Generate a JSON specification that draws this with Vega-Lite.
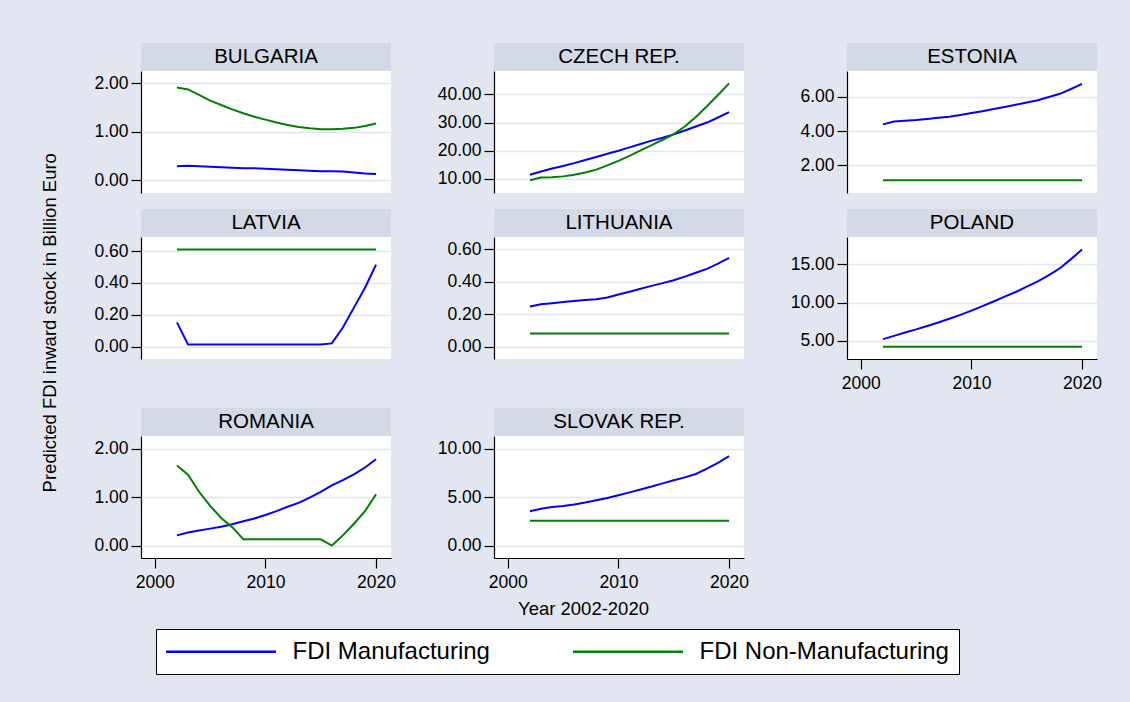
{
"$schema": "https://vega.github.io/schema/vega-lite/v6.json",
"background": "#e1e6f0",
"padding": {"left": 41, "top": 43, "right": 28, "bottom": 27},
"title": {"text": "Predicted FDI inward stock in Billion Euro", "orient": "left", "anchor": "middle", "font": "Liberation Sans", "fontSize": 18.5, "fontWeight": "normal", "color": "#000000", "offset": 34, "dx": 36},
"datasets": {"fdi": [
{"country":"BULGARIA","year":2002,"FDI Manufacturing":0.29,"FDI Non-Manufacturing":1.91},
{"country":"BULGARIA","year":2003,"FDI Manufacturing":0.30,"FDI Non-Manufacturing":1.87},
{"country":"BULGARIA","year":2004,"FDI Manufacturing":0.29,"FDI Non-Manufacturing":1.76},
{"country":"BULGARIA","year":2005,"FDI Manufacturing":0.28,"FDI Non-Manufacturing":1.64},
{"country":"BULGARIA","year":2006,"FDI Manufacturing":0.27,"FDI Non-Manufacturing":1.55},
{"country":"BULGARIA","year":2007,"FDI Manufacturing":0.26,"FDI Non-Manufacturing":1.46},
{"country":"BULGARIA","year":2008,"FDI Manufacturing":0.25,"FDI Non-Manufacturing":1.38},
{"country":"BULGARIA","year":2009,"FDI Manufacturing":0.25,"FDI Non-Manufacturing":1.31},
{"country":"BULGARIA","year":2010,"FDI Manufacturing":0.24,"FDI Non-Manufacturing":1.25},
{"country":"BULGARIA","year":2011,"FDI Manufacturing":0.23,"FDI Non-Manufacturing":1.19},
{"country":"BULGARIA","year":2012,"FDI Manufacturing":0.22,"FDI Non-Manufacturing":1.14},
{"country":"BULGARIA","year":2013,"FDI Manufacturing":0.21,"FDI Non-Manufacturing":1.10},
{"country":"BULGARIA","year":2014,"FDI Manufacturing":0.20,"FDI Non-Manufacturing":1.07},
{"country":"BULGARIA","year":2015,"FDI Manufacturing":0.19,"FDI Non-Manufacturing":1.05},
{"country":"BULGARIA","year":2016,"FDI Manufacturing":0.19,"FDI Non-Manufacturing":1.05},
{"country":"BULGARIA","year":2017,"FDI Manufacturing":0.18,"FDI Non-Manufacturing":1.06},
{"country":"BULGARIA","year":2018,"FDI Manufacturing":0.16,"FDI Non-Manufacturing":1.08},
{"country":"BULGARIA","year":2019,"FDI Manufacturing":0.14,"FDI Non-Manufacturing":1.12},
{"country":"BULGARIA","year":2020,"FDI Manufacturing":0.13,"FDI Non-Manufacturing":1.17},
{"country":"CZECH REP.","year":2002,"FDI Manufacturing":11.5,"FDI Non-Manufacturing":9.5},
{"country":"CZECH REP.","year":2003,"FDI Manufacturing":12.6,"FDI Non-Manufacturing":10.5},
{"country":"CZECH REP.","year":2004,"FDI Manufacturing":13.7,"FDI Non-Manufacturing":10.6},
{"country":"CZECH REP.","year":2005,"FDI Manufacturing":14.6,"FDI Non-Manufacturing":10.9},
{"country":"CZECH REP.","year":2006,"FDI Manufacturing":15.6,"FDI Non-Manufacturing":11.5},
{"country":"CZECH REP.","year":2007,"FDI Manufacturing":16.7,"FDI Non-Manufacturing":12.3},
{"country":"CZECH REP.","year":2008,"FDI Manufacturing":17.8,"FDI Non-Manufacturing":13.3},
{"country":"CZECH REP.","year":2009,"FDI Manufacturing":18.9,"FDI Non-Manufacturing":14.8},
{"country":"CZECH REP.","year":2010,"FDI Manufacturing":20.0,"FDI Non-Manufacturing":16.4},
{"country":"CZECH REP.","year":2011,"FDI Manufacturing":21.2,"FDI Non-Manufacturing":18.2},
{"country":"CZECH REP.","year":2012,"FDI Manufacturing":22.4,"FDI Non-Manufacturing":20.1},
{"country":"CZECH REP.","year":2013,"FDI Manufacturing":23.6,"FDI Non-Manufacturing":22.0},
{"country":"CZECH REP.","year":2014,"FDI Manufacturing":24.6,"FDI Non-Manufacturing":23.9},
{"country":"CZECH REP.","year":2015,"FDI Manufacturing":25.8,"FDI Non-Manufacturing":25.9},
{"country":"CZECH REP.","year":2016,"FDI Manufacturing":27.2,"FDI Non-Manufacturing":28.6},
{"country":"CZECH REP.","year":2017,"FDI Manufacturing":28.6,"FDI Non-Manufacturing":32.0},
{"country":"CZECH REP.","year":2018,"FDI Manufacturing":30.0,"FDI Non-Manufacturing":35.8},
{"country":"CZECH REP.","year":2019,"FDI Manufacturing":31.8,"FDI Non-Manufacturing":39.8},
{"country":"CZECH REP.","year":2020,"FDI Manufacturing":33.7,"FDI Non-Manufacturing":43.9},
{"country":"ESTONIA","year":2002,"FDI Manufacturing":4.39,"FDI Non-Manufacturing":1.13},
{"country":"ESTONIA","year":2003,"FDI Manufacturing":4.56,"FDI Non-Manufacturing":1.13},
{"country":"ESTONIA","year":2004,"FDI Manufacturing":4.60,"FDI Non-Manufacturing":1.13},
{"country":"ESTONIA","year":2005,"FDI Manufacturing":4.64,"FDI Non-Manufacturing":1.13},
{"country":"ESTONIA","year":2006,"FDI Manufacturing":4.70,"FDI Non-Manufacturing":1.13},
{"country":"ESTONIA","year":2007,"FDI Manufacturing":4.77,"FDI Non-Manufacturing":1.13},
{"country":"ESTONIA","year":2008,"FDI Manufacturing":4.84,"FDI Non-Manufacturing":1.13},
{"country":"ESTONIA","year":2009,"FDI Manufacturing":4.94,"FDI Non-Manufacturing":1.13},
{"country":"ESTONIA","year":2010,"FDI Manufacturing":5.05,"FDI Non-Manufacturing":1.13},
{"country":"ESTONIA","year":2011,"FDI Manufacturing":5.16,"FDI Non-Manufacturing":1.13},
{"country":"ESTONIA","year":2012,"FDI Manufacturing":5.28,"FDI Non-Manufacturing":1.13},
{"country":"ESTONIA","year":2013,"FDI Manufacturing":5.40,"FDI Non-Manufacturing":1.13},
{"country":"ESTONIA","year":2014,"FDI Manufacturing":5.53,"FDI Non-Manufacturing":1.13},
{"country":"ESTONIA","year":2015,"FDI Manufacturing":5.67,"FDI Non-Manufacturing":1.13},
{"country":"ESTONIA","year":2016,"FDI Manufacturing":5.80,"FDI Non-Manufacturing":1.13},
{"country":"ESTONIA","year":2017,"FDI Manufacturing":5.98,"FDI Non-Manufacturing":1.13},
{"country":"ESTONIA","year":2018,"FDI Manufacturing":6.17,"FDI Non-Manufacturing":1.13},
{"country":"ESTONIA","year":2019,"FDI Manufacturing":6.45,"FDI Non-Manufacturing":1.13},
{"country":"ESTONIA","year":2020,"FDI Manufacturing":6.75,"FDI Non-Manufacturing":1.13},
{"country":"LATVIA","year":2002,"FDI Manufacturing":0.152,"FDI Non-Manufacturing":0.611},
{"country":"LATVIA","year":2003,"FDI Manufacturing":0.013,"FDI Non-Manufacturing":0.611},
{"country":"LATVIA","year":2004,"FDI Manufacturing":0.013,"FDI Non-Manufacturing":0.611},
{"country":"LATVIA","year":2005,"FDI Manufacturing":0.013,"FDI Non-Manufacturing":0.611},
{"country":"LATVIA","year":2006,"FDI Manufacturing":0.013,"FDI Non-Manufacturing":0.611},
{"country":"LATVIA","year":2007,"FDI Manufacturing":0.013,"FDI Non-Manufacturing":0.611},
{"country":"LATVIA","year":2008,"FDI Manufacturing":0.013,"FDI Non-Manufacturing":0.611},
{"country":"LATVIA","year":2009,"FDI Manufacturing":0.013,"FDI Non-Manufacturing":0.611},
{"country":"LATVIA","year":2010,"FDI Manufacturing":0.013,"FDI Non-Manufacturing":0.611},
{"country":"LATVIA","year":2011,"FDI Manufacturing":0.013,"FDI Non-Manufacturing":0.611},
{"country":"LATVIA","year":2012,"FDI Manufacturing":0.013,"FDI Non-Manufacturing":0.611},
{"country":"LATVIA","year":2013,"FDI Manufacturing":0.013,"FDI Non-Manufacturing":0.611},
{"country":"LATVIA","year":2014,"FDI Manufacturing":0.013,"FDI Non-Manufacturing":0.611},
{"country":"LATVIA","year":2015,"FDI Manufacturing":0.013,"FDI Non-Manufacturing":0.611},
{"country":"LATVIA","year":2016,"FDI Manufacturing":0.02,"FDI Non-Manufacturing":0.611},
{"country":"LATVIA","year":2017,"FDI Manufacturing":0.12,"FDI Non-Manufacturing":0.611},
{"country":"LATVIA","year":2018,"FDI Manufacturing":0.245,"FDI Non-Manufacturing":0.611},
{"country":"LATVIA","year":2019,"FDI Manufacturing":0.37,"FDI Non-Manufacturing":0.611},
{"country":"LATVIA","year":2020,"FDI Manufacturing":0.515,"FDI Non-Manufacturing":0.611},
{"country":"LITHUANIA","year":2002,"FDI Manufacturing":0.247,"FDI Non-Manufacturing":0.081},
{"country":"LITHUANIA","year":2003,"FDI Manufacturing":0.262,"FDI Non-Manufacturing":0.081},
{"country":"LITHUANIA","year":2004,"FDI Manufacturing":0.268,"FDI Non-Manufacturing":0.081},
{"country":"LITHUANIA","year":2005,"FDI Manufacturing":0.275,"FDI Non-Manufacturing":0.081},
{"country":"LITHUANIA","year":2006,"FDI Manufacturing":0.281,"FDI Non-Manufacturing":0.081},
{"country":"LITHUANIA","year":2007,"FDI Manufacturing":0.287,"FDI Non-Manufacturing":0.081},
{"country":"LITHUANIA","year":2008,"FDI Manufacturing":0.293,"FDI Non-Manufacturing":0.081},
{"country":"LITHUANIA","year":2009,"FDI Manufacturing":0.303,"FDI Non-Manufacturing":0.081},
{"country":"LITHUANIA","year":2010,"FDI Manufacturing":0.322,"FDI Non-Manufacturing":0.081},
{"country":"LITHUANIA","year":2011,"FDI Manufacturing":0.339,"FDI Non-Manufacturing":0.081},
{"country":"LITHUANIA","year":2012,"FDI Manufacturing":0.357,"FDI Non-Manufacturing":0.081},
{"country":"LITHUANIA","year":2013,"FDI Manufacturing":0.375,"FDI Non-Manufacturing":0.081},
{"country":"LITHUANIA","year":2014,"FDI Manufacturing":0.392,"FDI Non-Manufacturing":0.081},
{"country":"LITHUANIA","year":2015,"FDI Manufacturing":0.410,"FDI Non-Manufacturing":0.081},
{"country":"LITHUANIA","year":2016,"FDI Manufacturing":0.432,"FDI Non-Manufacturing":0.081},
{"country":"LITHUANIA","year":2017,"FDI Manufacturing":0.456,"FDI Non-Manufacturing":0.081},
{"country":"LITHUANIA","year":2018,"FDI Manufacturing":0.480,"FDI Non-Manufacturing":0.081},
{"country":"LITHUANIA","year":2019,"FDI Manufacturing":0.512,"FDI Non-Manufacturing":0.081},
{"country":"LITHUANIA","year":2020,"FDI Manufacturing":0.548,"FDI Non-Manufacturing":0.081},
{"country":"POLAND","year":2002,"FDI Manufacturing":5.22,"FDI Non-Manufacturing":4.21},
{"country":"POLAND","year":2003,"FDI Manufacturing":5.65,"FDI Non-Manufacturing":4.21},
{"country":"POLAND","year":2004,"FDI Manufacturing":6.10,"FDI Non-Manufacturing":4.21},
{"country":"POLAND","year":2005,"FDI Manufacturing":6.50,"FDI Non-Manufacturing":4.21},
{"country":"POLAND","year":2006,"FDI Manufacturing":6.95,"FDI Non-Manufacturing":4.21},
{"country":"POLAND","year":2007,"FDI Manufacturing":7.40,"FDI Non-Manufacturing":4.21},
{"country":"POLAND","year":2008,"FDI Manufacturing":7.90,"FDI Non-Manufacturing":4.21},
{"country":"POLAND","year":2009,"FDI Manufacturing":8.40,"FDI Non-Manufacturing":4.21},
{"country":"POLAND","year":2010,"FDI Manufacturing":8.96,"FDI Non-Manufacturing":4.21},
{"country":"POLAND","year":2011,"FDI Manufacturing":9.55,"FDI Non-Manufacturing":4.21},
{"country":"POLAND","year":2012,"FDI Manufacturing":10.15,"FDI Non-Manufacturing":4.21},
{"country":"POLAND","year":2013,"FDI Manufacturing":10.80,"FDI Non-Manufacturing":4.21},
{"country":"POLAND","year":2014,"FDI Manufacturing":11.40,"FDI Non-Manufacturing":4.21},
{"country":"POLAND","year":2015,"FDI Manufacturing":12.10,"FDI Non-Manufacturing":4.21},
{"country":"POLAND","year":2016,"FDI Manufacturing":12.80,"FDI Non-Manufacturing":4.21},
{"country":"POLAND","year":2017,"FDI Manufacturing":13.60,"FDI Non-Manufacturing":4.21},
{"country":"POLAND","year":2018,"FDI Manufacturing":14.50,"FDI Non-Manufacturing":4.21},
{"country":"POLAND","year":2019,"FDI Manufacturing":15.70,"FDI Non-Manufacturing":4.21},
{"country":"POLAND","year":2020,"FDI Manufacturing":16.95,"FDI Non-Manufacturing":4.21},
{"country":"ROMANIA","year":2002,"FDI Manufacturing":0.21,"FDI Non-Manufacturing":1.65},
{"country":"ROMANIA","year":2003,"FDI Manufacturing":0.27,"FDI Non-Manufacturing":1.46},
{"country":"ROMANIA","year":2004,"FDI Manufacturing":0.31,"FDI Non-Manufacturing":1.11},
{"country":"ROMANIA","year":2005,"FDI Manufacturing":0.35,"FDI Non-Manufacturing":0.82},
{"country":"ROMANIA","year":2006,"FDI Manufacturing":0.39,"FDI Non-Manufacturing":0.57},
{"country":"ROMANIA","year":2007,"FDI Manufacturing":0.44,"FDI Non-Manufacturing":0.38},
{"country":"ROMANIA","year":2008,"FDI Manufacturing":0.50,"FDI Non-Manufacturing":0.13},
{"country":"ROMANIA","year":2009,"FDI Manufacturing":0.56,"FDI Non-Manufacturing":0.13},
{"country":"ROMANIA","year":2010,"FDI Manufacturing":0.63,"FDI Non-Manufacturing":0.13},
{"country":"ROMANIA","year":2011,"FDI Manufacturing":0.71,"FDI Non-Manufacturing":0.13},
{"country":"ROMANIA","year":2012,"FDI Manufacturing":0.80,"FDI Non-Manufacturing":0.13},
{"country":"ROMANIA","year":2013,"FDI Manufacturing":0.88,"FDI Non-Manufacturing":0.13},
{"country":"ROMANIA","year":2014,"FDI Manufacturing":0.99,"FDI Non-Manufacturing":0.13},
{"country":"ROMANIA","year":2015,"FDI Manufacturing":1.11,"FDI Non-Manufacturing":0.13},
{"country":"ROMANIA","year":2016,"FDI Manufacturing":1.24,"FDI Non-Manufacturing":0.0},
{"country":"ROMANIA","year":2017,"FDI Manufacturing":1.35,"FDI Non-Manufacturing":0.21},
{"country":"ROMANIA","year":2018,"FDI Manufacturing":1.47,"FDI Non-Manufacturing":0.45},
{"country":"ROMANIA","year":2019,"FDI Manufacturing":1.61,"FDI Non-Manufacturing":0.71},
{"country":"ROMANIA","year":2020,"FDI Manufacturing":1.78,"FDI Non-Manufacturing":1.06},
{"country":"SLOVAK REP.","year":2002,"FDI Manufacturing":3.54,"FDI Non-Manufacturing":2.57},
{"country":"SLOVAK REP.","year":2003,"FDI Manufacturing":3.80,"FDI Non-Manufacturing":2.57},
{"country":"SLOVAK REP.","year":2004,"FDI Manufacturing":3.98,"FDI Non-Manufacturing":2.57},
{"country":"SLOVAK REP.","year":2005,"FDI Manufacturing":4.10,"FDI Non-Manufacturing":2.57},
{"country":"SLOVAK REP.","year":2006,"FDI Manufacturing":4.25,"FDI Non-Manufacturing":2.57},
{"country":"SLOVAK REP.","year":2007,"FDI Manufacturing":4.45,"FDI Non-Manufacturing":2.57},
{"country":"SLOVAK REP.","year":2008,"FDI Manufacturing":4.68,"FDI Non-Manufacturing":2.57},
{"country":"SLOVAK REP.","year":2009,"FDI Manufacturing":4.92,"FDI Non-Manufacturing":2.57},
{"country":"SLOVAK REP.","year":2010,"FDI Manufacturing":5.20,"FDI Non-Manufacturing":2.57},
{"country":"SLOVAK REP.","year":2011,"FDI Manufacturing":5.50,"FDI Non-Manufacturing":2.57},
{"country":"SLOVAK REP.","year":2012,"FDI Manufacturing":5.80,"FDI Non-Manufacturing":2.57},
{"country":"SLOVAK REP.","year":2013,"FDI Manufacturing":6.10,"FDI Non-Manufacturing":2.57},
{"country":"SLOVAK REP.","year":2014,"FDI Manufacturing":6.43,"FDI Non-Manufacturing":2.57},
{"country":"SLOVAK REP.","year":2015,"FDI Manufacturing":6.75,"FDI Non-Manufacturing":2.57},
{"country":"SLOVAK REP.","year":2016,"FDI Manufacturing":7.05,"FDI Non-Manufacturing":2.57},
{"country":"SLOVAK REP.","year":2017,"FDI Manufacturing":7.40,"FDI Non-Manufacturing":2.57},
{"country":"SLOVAK REP.","year":2018,"FDI Manufacturing":7.95,"FDI Non-Manufacturing":2.57},
{"country":"SLOVAK REP.","year":2019,"FDI Manufacturing":8.55,"FDI Non-Manufacturing":2.57},
{"country":"SLOVAK REP.","year":2020,"FDI Manufacturing":9.25,"FDI Non-Manufacturing":2.57}
]},
"columns": 3,
"align": "each",
"spacing": {"row": 16, "column": 41},
"resolve": {"scale": {"x": "independent", "y": "independent", "color": "shared"}},
"concat": [
{"spacing": 0, "vconcat": [
 {"width": 250, "height": 28, "view": {"fill": "#d3d9e5", "stroke": null}, "data": {"values": [{"country": "BULGARIA"}]}, "mark": {"type": "text", "font": "Liberation Sans", "fontSize": 20.5, "color": "#000000", "baseline": "middle", "align": "center"}, "encoding": {"text": {"field": "country"}}},
 {"width": 250, "height": 122, "view": {"fill": "#ffffff", "stroke": null}, "data": {"name": "fdi"},
  "transform": [{"filter": "datum.country === 'BULGARIA'"}, {"fold": ["FDI Manufacturing", "FDI Non-Manufacturing"], "as": ["series", "value"]}],
  "mark": {"type": "line", "strokeWidth": 2},
  "encoding": {
   "x": {"field": "year", "type": "quantitative", "scale": {"domain": [1998.75, 2021.35], "nice": false, "zero": false}, "axis": null},
   "y": {"field": "value", "type": "quantitative", "scale": {"domain": [-0.26, 2.25], "nice": false, "zero": false}, "axis": {"values": [0, 1, 2], "title": null}},
   "color": {"field": "series", "type": "nominal", "scale": {"domain": ["FDI Manufacturing", "FDI Non-Manufacturing"], "range": ["#0000ff", "#008000"]}, "legend": {"orient": "none", "legendX": 15, "legendY": 586, "direction": "horizontal", "columns": 2, "title": null}}
  }}
]},
{"spacing": 0, "vconcat": [
 {"width": 250, "height": 28, "view": {"fill": "#d3d9e5", "stroke": null}, "data": {"values": [{"country": "CZECH REP."}]}, "mark": {"type": "text", "font": "Liberation Sans", "fontSize": 20.5, "color": "#000000", "baseline": "middle", "align": "center"}, "encoding": {"text": {"field": "country"}}},
 {"width": 250, "height": 122, "view": {"fill": "#ffffff", "stroke": null}, "data": {"name": "fdi"},
  "transform": [{"filter": "datum.country === 'CZECH REP.'"}, {"fold": ["FDI Manufacturing", "FDI Non-Manufacturing"], "as": ["series", "value"]}],
  "mark": {"type": "line", "strokeWidth": 2},
  "encoding": {
   "x": {"field": "year", "type": "quantitative", "scale": {"domain": [1998.75, 2021.35], "nice": false, "zero": false}, "axis": null},
   "y": {"field": "value", "type": "quantitative", "scale": {"domain": [5.0, 48.3], "nice": false, "zero": false}, "axis": {"values": [10, 20, 30, 40], "title": null}},
   "color": {"field": "series", "type": "nominal", "scale": {"domain": ["FDI Manufacturing", "FDI Non-Manufacturing"], "range": ["#0000ff", "#008000"]}, "legend": {"orient": "none", "legendX": 15, "legendY": 586, "direction": "horizontal", "columns": 2, "title": null}}
  }}
]},
{"spacing": 0, "vconcat": [
 {"width": 250, "height": 28, "view": {"fill": "#d3d9e5", "stroke": null}, "data": {"values": [{"country": "ESTONIA"}]}, "mark": {"type": "text", "font": "Liberation Sans", "fontSize": 20.5, "color": "#000000", "baseline": "middle", "align": "center"}, "encoding": {"text": {"field": "country"}}},
 {"width": 250, "height": 122, "view": {"fill": "#ffffff", "stroke": null}, "data": {"name": "fdi"},
  "transform": [{"filter": "datum.country === 'ESTONIA'"}, {"fold": ["FDI Manufacturing", "FDI Non-Manufacturing"], "as": ["series", "value"]}],
  "mark": {"type": "line", "strokeWidth": 2},
  "encoding": {
   "x": {"field": "year", "type": "quantitative", "scale": {"domain": [1998.75, 2021.35], "nice": false, "zero": false}, "axis": null},
   "y": {"field": "value", "type": "quantitative", "scale": {"domain": [0.39, 7.5], "nice": false, "zero": false}, "axis": {"values": [2, 4, 6], "title": null}},
   "color": {"field": "series", "type": "nominal", "scale": {"domain": ["FDI Manufacturing", "FDI Non-Manufacturing"], "range": ["#0000ff", "#008000"]}, "legend": {"orient": "none", "legendX": 15, "legendY": 586, "direction": "horizontal", "columns": 2, "title": null}}
  }}
]},
{"spacing": 0, "vconcat": [
 {"width": 250, "height": 28, "view": {"fill": "#d3d9e5", "stroke": null}, "data": {"values": [{"country": "LATVIA"}]}, "mark": {"type": "text", "font": "Liberation Sans", "fontSize": 20.5, "color": "#000000", "baseline": "middle", "align": "center"}, "encoding": {"text": {"field": "country"}}},
 {"width": 250, "height": 122, "view": {"fill": "#ffffff", "stroke": null}, "data": {"name": "fdi"},
  "transform": [{"filter": "datum.country === 'LATVIA'"}, {"fold": ["FDI Manufacturing", "FDI Non-Manufacturing"], "as": ["series", "value"]}],
  "mark": {"type": "line", "strokeWidth": 2},
  "encoding": {
   "x": {"field": "year", "type": "quantitative", "scale": {"domain": [1998.75, 2021.35], "nice": false, "zero": false}, "axis": null},
   "y": {"field": "value", "type": "quantitative", "scale": {"domain": [-0.078, 0.689], "nice": false, "zero": false}, "axis": {"values": [0, 0.2, 0.4, 0.6], "title": null}},
   "color": {"field": "series", "type": "nominal", "scale": {"domain": ["FDI Manufacturing", "FDI Non-Manufacturing"], "range": ["#0000ff", "#008000"]}, "legend": {"orient": "none", "legendX": 15, "legendY": 586, "direction": "horizontal", "columns": 2, "title": null}}
  }}
]},
{"spacing": 0, "vconcat": [
 {"width": 250, "height": 28, "view": {"fill": "#d3d9e5", "stroke": null}, "data": {"values": [{"country": "LITHUANIA"}]}, "mark": {"type": "text", "font": "Liberation Sans", "fontSize": 20.5, "color": "#000000", "baseline": "middle", "align": "center"}, "encoding": {"text": {"field": "country"}}},
 {"width": 250, "height": 122, "view": {"fill": "#ffffff", "stroke": null}, "data": {"name": "fdi"},
  "transform": [{"filter": "datum.country === 'LITHUANIA'"}, {"fold": ["FDI Manufacturing", "FDI Non-Manufacturing"], "as": ["series", "value"]}],
  "mark": {"type": "line", "strokeWidth": 2},
  "encoding": {
   "x": {"field": "year", "type": "quantitative", "scale": {"domain": [1998.75, 2021.35], "nice": false, "zero": false}, "axis": null},
   "y": {"field": "value", "type": "quantitative", "scale": {"domain": [-0.077, 0.677], "nice": false, "zero": false}, "axis": {"values": [0, 0.2, 0.4, 0.6], "title": null}},
   "color": {"field": "series", "type": "nominal", "scale": {"domain": ["FDI Manufacturing", "FDI Non-Manufacturing"], "range": ["#0000ff", "#008000"]}, "legend": {"orient": "none", "legendX": 15, "legendY": 586, "direction": "horizontal", "columns": 2, "title": null}}
  }}
]},
{"spacing": 0, "vconcat": [
 {"width": 250, "height": 28, "view": {"fill": "#d3d9e5", "stroke": null}, "data": {"values": [{"country": "POLAND"}]}, "mark": {"type": "text", "font": "Liberation Sans", "fontSize": 20.5, "color": "#000000", "baseline": "middle", "align": "center"}, "encoding": {"text": {"field": "country"}}},
 {"width": 250, "height": 122, "view": {"fill": "#ffffff", "stroke": null}, "data": {"name": "fdi"},
  "transform": [{"filter": "datum.country === 'POLAND'"}, {"fold": ["FDI Manufacturing", "FDI Non-Manufacturing"], "as": ["series", "value"]}],
  "mark": {"type": "line", "strokeWidth": 2},
  "encoding": {
   "x": {"field": "year", "type": "quantitative", "scale": {"domain": [1998.75, 2021.35], "nice": false, "zero": false}, "axis": {"values": [2000, 2010, 2020], "format": "d", "title": null, "grid": false}},
   "y": {"field": "value", "type": "quantitative", "scale": {"domain": [2.62, 18.6], "nice": false, "zero": false}, "axis": {"values": [5, 10, 15], "title": null}},
   "color": {"field": "series", "type": "nominal", "scale": {"domain": ["FDI Manufacturing", "FDI Non-Manufacturing"], "range": ["#0000ff", "#008000"]}, "legend": {"orient": "none", "legendX": 15, "legendY": 586, "direction": "horizontal", "columns": 2, "title": null}}
  }}
]},
{"spacing": 0, "vconcat": [
 {"width": 250, "height": 28, "view": {"fill": "#d3d9e5", "stroke": null}, "data": {"values": [{"country": "ROMANIA"}]}, "mark": {"type": "text", "font": "Liberation Sans", "fontSize": 20.5, "color": "#000000", "baseline": "middle", "align": "center"}, "encoding": {"text": {"field": "country"}}},
 {"width": 250, "height": 122, "view": {"fill": "#ffffff", "stroke": null}, "data": {"name": "fdi"},
  "transform": [{"filter": "datum.country === 'ROMANIA'"}, {"fold": ["FDI Manufacturing", "FDI Non-Manufacturing"], "as": ["series", "value"]}],
  "mark": {"type": "line", "strokeWidth": 2},
  "encoding": {
   "x": {"field": "year", "type": "quantitative", "scale": {"domain": [1998.75, 2021.35], "nice": false, "zero": false}, "axis": {"values": [2000, 2010, 2020], "format": "d", "title": null, "grid": false}},
   "y": {"field": "value", "type": "quantitative", "scale": {"domain": [-0.256, 2.26], "nice": false, "zero": false}, "axis": {"values": [0, 1, 2], "title": null}},
   "color": {"field": "series", "type": "nominal", "scale": {"domain": ["FDI Manufacturing", "FDI Non-Manufacturing"], "range": ["#0000ff", "#008000"]}, "legend": {"orient": "none", "legendX": 15, "legendY": 586, "direction": "horizontal", "columns": 2, "title": null}}
  }}
]},
{"spacing": 0, "vconcat": [
 {"width": 250, "height": 28, "view": {"fill": "#d3d9e5", "stroke": null}, "data": {"values": [{"country": "SLOVAK REP."}]}, "mark": {"type": "text", "font": "Liberation Sans", "fontSize": 20.5, "color": "#000000", "baseline": "middle", "align": "center"}, "encoding": {"text": {"field": "country"}}},
 {"width": 250, "height": 122, "view": {"fill": "#ffffff", "stroke": null}, "data": {"name": "fdi"},
  "transform": [{"filter": "datum.country === 'SLOVAK REP.'"}, {"fold": ["FDI Manufacturing", "FDI Non-Manufacturing"], "as": ["series", "value"]}],
  "mark": {"type": "line", "strokeWidth": 2},
  "encoding": {
   "x": {"field": "year", "type": "quantitative", "scale": {"domain": [1998.75, 2021.35], "nice": false, "zero": false}, "axis": {"values": [2000, 2010, 2020], "format": "d", "title": "Year 2002-2020", "titleX": 89, "titlePadding": 9, "grid": false}},
   "y": {"field": "value", "type": "quantitative", "scale": {"domain": [-1.28, 11.32], "nice": false, "zero": false}, "axis": {"values": [0, 5, 10], "title": null}},
   "color": {"field": "series", "type": "nominal", "scale": {"domain": ["FDI Manufacturing", "FDI Non-Manufacturing"], "range": ["#0000ff", "#008000"]}, "legend": {"orient": "none", "legendX": 15, "legendY": 586, "direction": "horizontal", "columns": 2, "title": null}}
  }}
]}
],
"config": {
 "font": "Liberation Sans",
 "view": {"stroke": null},
 "axis": {"labelFont": "Liberation Sans", "labelFontSize": 17.5, "labelColor": "#000000", "tickColor": "#000000", "domainColor": "#000000", "tickSize": 10, "tickWidth": 1.2, "domainWidth": 1.2, "titleFont": "Liberation Sans", "titleFontSize": 18.5, "titleFontWeight": "normal", "titleColor": "#000000", "gridColor": "#e0e5ef", "gridWidth": 1.5},
 "axisY": {"format": ".2f", "grid": true, "labelPadding": 3},
 "axisX": {"labelPadding": 5, "grid": false},
 "legend": {"symbolType": "M-5,0H5", "symbolSize": 484, "symbolOffset": 42.5, "symbolStrokeWidth": 2.5, "labelFont": "Liberation Sans", "labelFontSize": 24, "labelColor": "#000000", "labelOffset": 59, "columnPadding": 78, "padding": 10, "strokeColor": "#000000", "fillColor": "#ffffff", "labelLimit": 400}
}
}
